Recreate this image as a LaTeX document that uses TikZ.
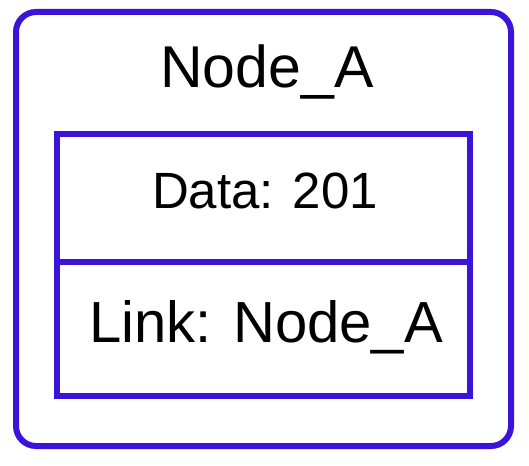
\documentclass[tikz,border=0pt]{standalone}
\usepackage{fontspec}
\setmainfont{Liberation Sans}
\usetikzlibrary{positioning}
\definecolor{boxblue}{RGB}{59,19,217}

\begin{document}
\begin{tikzpicture}[x = 1pt, y = -1pt, style={line width=6pt, draw=boxblue}]
\useasboundingbox (0,0) rectangle (529,465);
% Outer node frame
\draw[boxblue, rounded corners=20pt] (16, 12) rectangle (511, 446);
\node[anchor=base] (title) at (267, 88) {\fontsize{59}{66}\selectfont Node\_A};
% Record with data and link fields
\draw[boxblue] (57, 134) rectangle (470, 396);
\draw[boxblue] (57, 262) -- (470, 262);
\node[anchor=base] (data) at (265, 208) {\fontsize{51}{60}\selectfont Data: 201};
\node[anchor=base] (link) at (266, 342) {\fontsize{58}{66}\selectfont Link: Node\_A};
\end{tikzpicture}
\end{document}
